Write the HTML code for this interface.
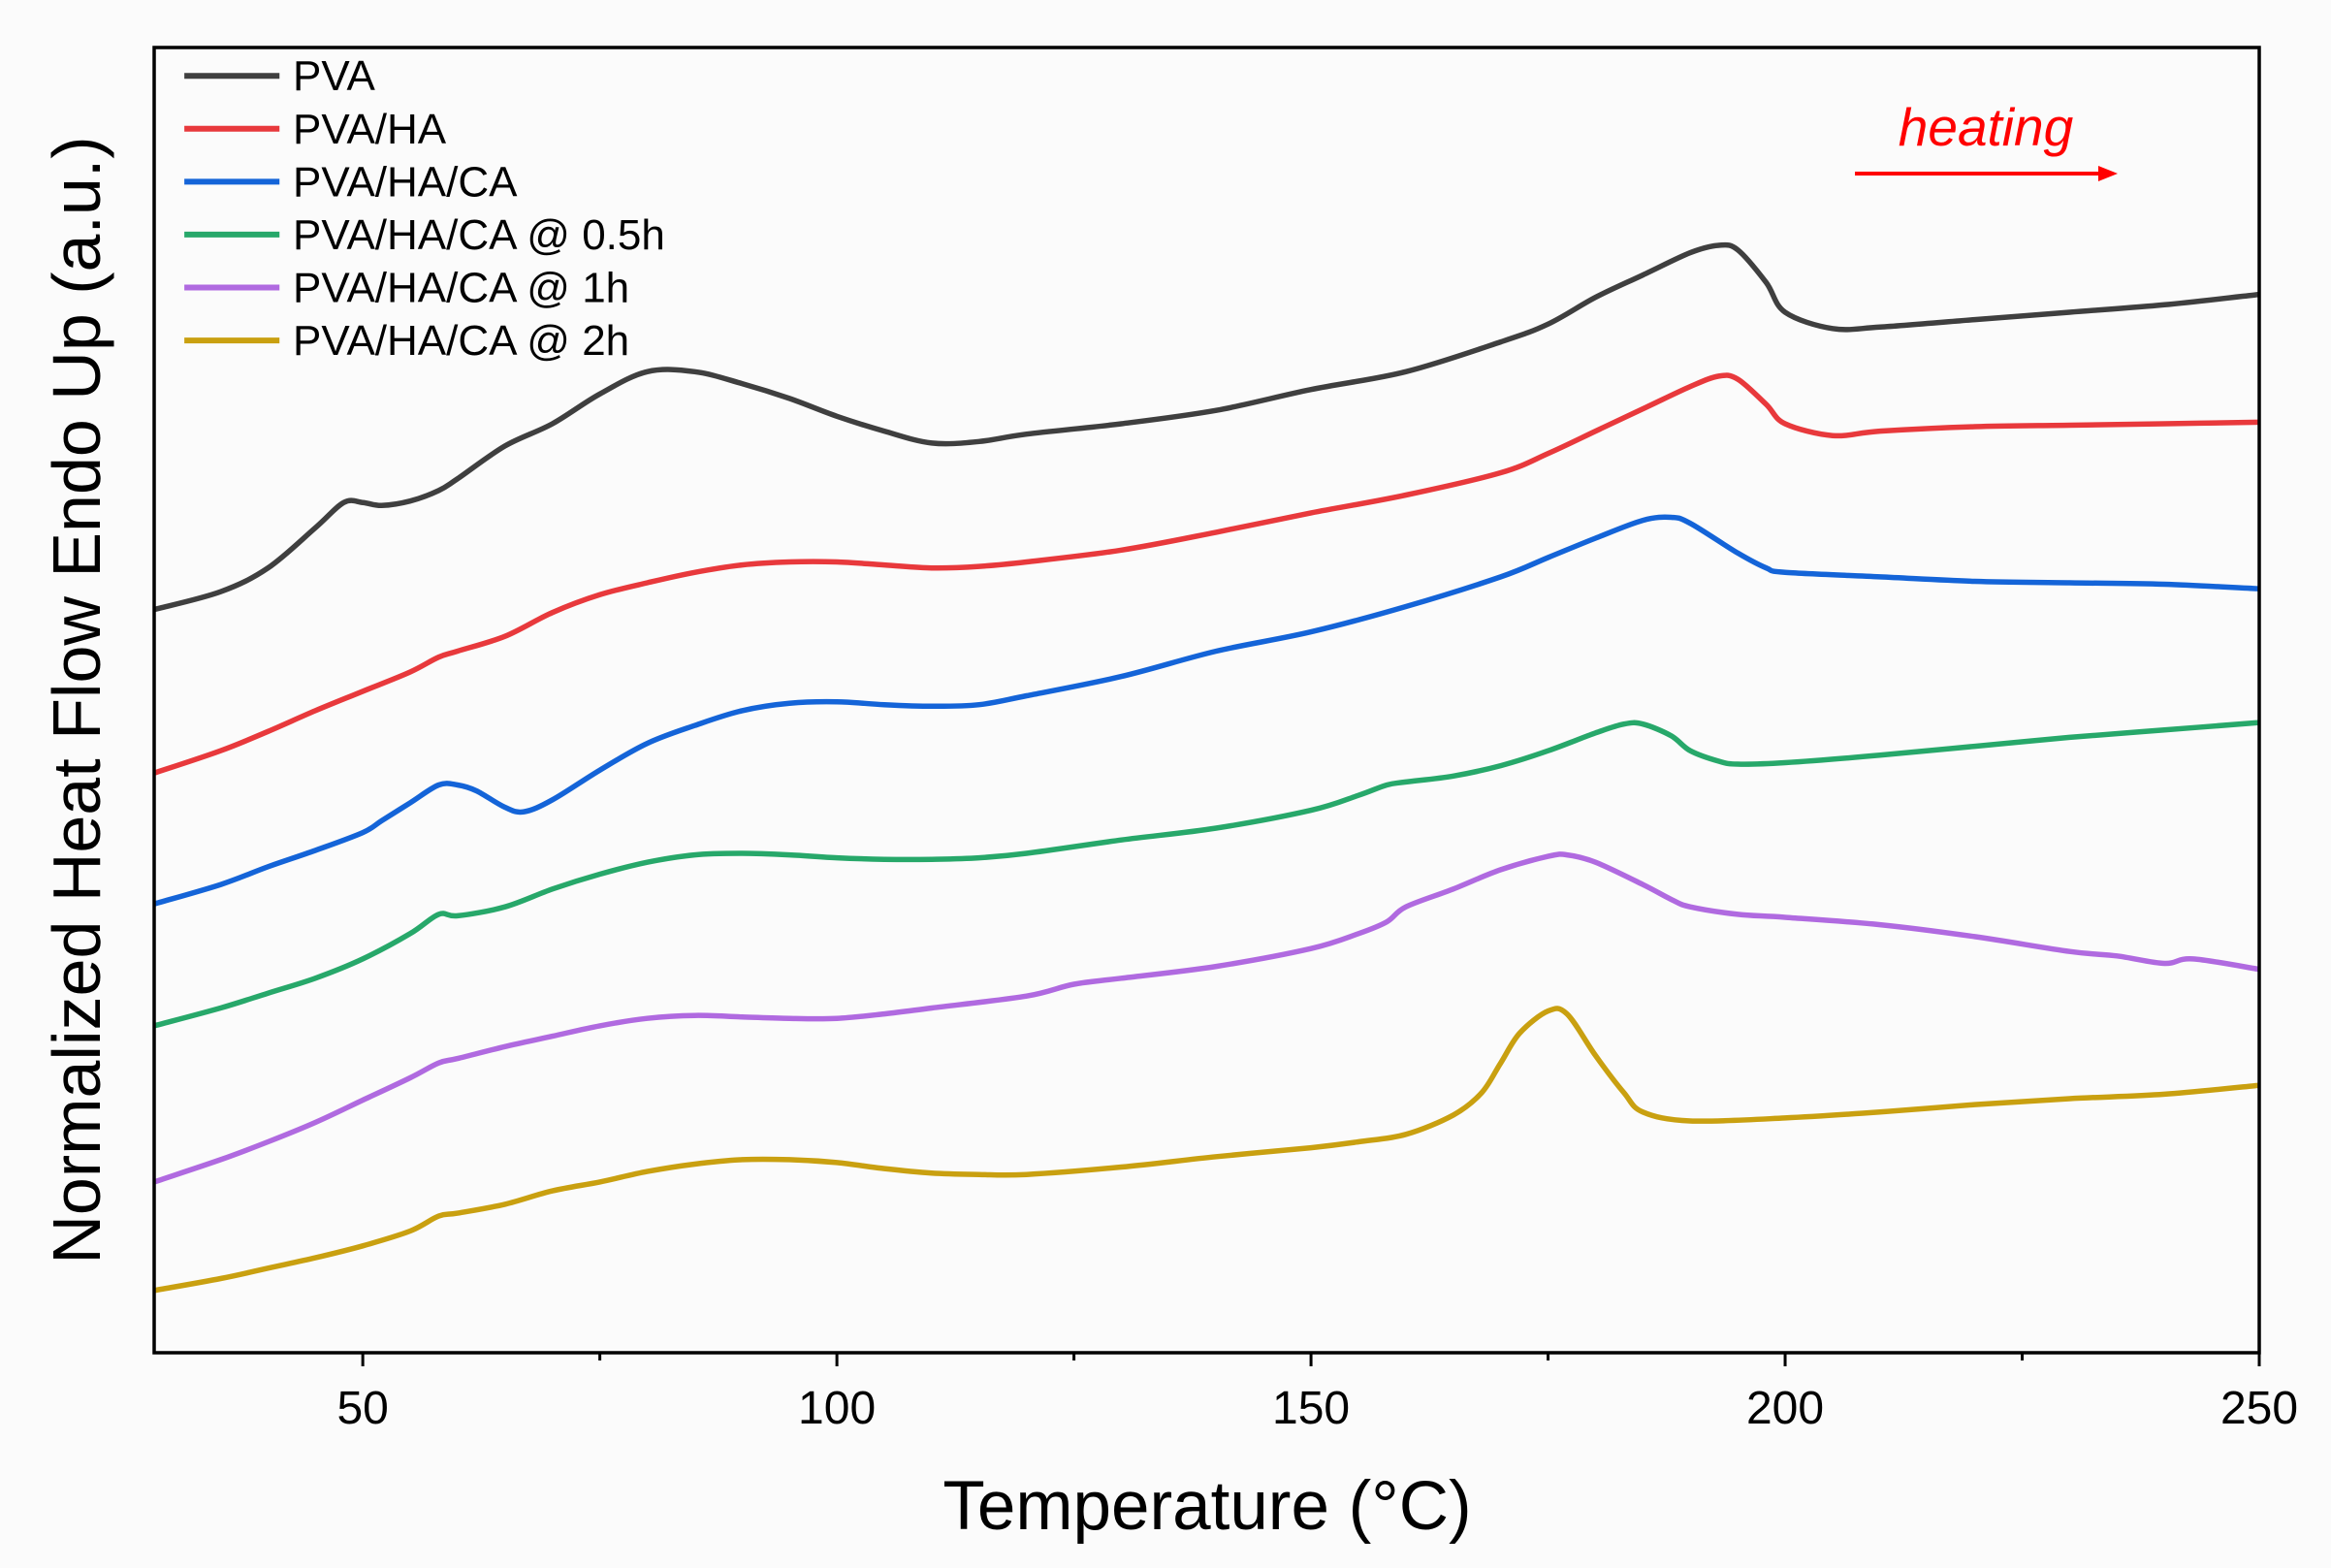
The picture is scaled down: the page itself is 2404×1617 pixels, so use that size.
<!DOCTYPE html>
<html><head><meta charset="utf-8"><style>
html,body{margin:0;padding:0;background:#fbfbfb;}
svg{display:block;font-family:"Liberation Sans",Arial,sans-serif;}
</style></head><body>
<svg id="chart" width="2404" height="1617" viewBox="0 0 2404 1617">
<rect x="0" y="0" width="2404" height="1617" fill="#fbfbfb"/>
<g id="curves"></g>
<rect x="159" y="49" width="2171" height="1346" fill="none" stroke="#000" stroke-width="3.5"/>
<g id="xticks"></g>
<text x="1245" y="1577" font-size="71" text-anchor="middle">Temperature (°C)</text>
<text transform="translate(103,722) rotate(-90)" font-size="70" text-anchor="middle">Normalized Heat Flow Endo Up (a.u.)</text>
<g id="legend"></g>
<text x="2048" y="150" font-size="55" font-style="italic" fill="#ff0000" text-anchor="middle">heating</text>
<line x1="1913" y1="179" x2="2170" y2="179" stroke="#ff0000" stroke-width="4"/>
<polygon points="2184,179 2164,171 2164,187" fill="#ff0000"/>
</svg>
<script>
const seriesNames = ["PVA","PVA/HA","PVA/HA/CA","PVA/HA/CA @ 0.5h","PVA/HA/CA @ 1h","PVA/HA/CA @ 2h"];
const seriesColors = ["#3f3f3f","#e8393c","#1464d8","#27a86a","#b06ae0","#c9a010"];
const xTicks = [50,100,150,200,250];
const xMinorTicks = [75,125,175,225];
const tPVA = [28,35,40,45,48,50,52,55,58,60,65,70,75,80,85,90,95,100,105,110,115,120,130,140,150,160,170,175,180,185,190,193,195,198,200,205,210,220,230,240,250];
const vPVA = [410,398,382,355,338,338,340,337,330,322,300,285,265,250,250,258,268,280,290,298,297,292,285,276,262,250,230,218,200,185,170,165,168,190,210,221,220,215,210,205,198];
const tHA = [28,35,40,45,50,55,58,60,65,70,75,80,85,90,95,100,105,110,115,120,130,140,150,160,170,175,180,185,190,193,195,198,200,205,210,220,230,240,250];
const vHA = [520,505,492,478,465,452,442,438,428,412,400,392,385,380,378,378,380,382,381,378,370,358,345,333,318,305,290,275,260,253,255,272,285,293,290,287,286,285,284];
const tCA = [28,35,40,45,50,52,55,58,60,62,65,67,70,75,80,85,90,95,100,105,110,115,120,130,140,150,160,170,175,180,185,188,190,195,198,200,210,220,230,240,250];
const vCA = [608,595,583,572,560,552,540,528,528,532,543,546,538,518,500,488,478,473,472,474,475,474,468,455,438,425,408,388,375,362,350,348,352,372,382,385,388,391,392,393,396];
const t05 = [28,35,40,45,50,55,58,60,65,70,75,80,85,90,95,100,105,110,115,120,130,140,150,155,158,160,165,170,175,180,183,185,188,190,193,195,200,210,220,230,240,250];
const v05 = [690,678,668,658,645,628,615,616,610,598,588,580,575,574,575,577,578,578,577,574,565,557,545,535,528,526,522,515,505,493,487,487,495,505,512,514,513,508,502,496,491,486];
const t1 = [28,35,40,45,50,55,58,60,65,70,75,80,85,90,95,100,105,110,120,125,130,140,150,155,158,160,165,170,175,177,180,185,188,190,195,200,210,220,230,235,240,243,250];
const v1 = [795,780,768,755,740,725,715,712,704,697,690,685,683,684,685,685,682,678,670,662,658,650,638,628,620,610,598,585,576,575,580,595,605,610,615,617,622,630,640,643,648,645,652];
const t2 = [28,35,40,45,50,55,58,60,65,70,75,80,85,90,95,100,105,110,115,120,130,140,150,155,160,165,168,170,172,175,177,180,183,185,190,200,210,220,230,240,250];
const v2 = [868,860,853,846,838,828,818,816,810,801,795,788,783,780,780,782,786,789,790,790,785,778,772,768,763,750,735,715,695,680,682,710,735,748,754,752,748,743,739,736,730];
const allT = [tPVA,tHA,tCA,t05,t1,t2];
const allV = [vPVA,vHA,vCA,v05,v1,v2];

const S = 2404/1568;
const X0=159, X1=2330, Y0=49, Y1=1395;
const TMIN=28, TMAX=250;
function xScale(t){return X0+(t-TMIN)/(TMAX-TMIN)*(X1-X0);}
function yScale(v){return v*S;}
const NS="http://www.w3.org/2000/svg";

function smoothPath(pts){
  let d="M"+pts[0][0].toFixed(1)+","+pts[0][1].toFixed(1);
  for(let i=0;i<pts.length-1;i++){
    const p0=pts[Math.max(0,i-1)],p1=pts[i],p2=pts[i+1],p3=pts[Math.min(pts.length-1,i+2)];
    const c1x=p1[0]+(p2[0]-p0[0])/6,c1y=p1[1]+(p2[1]-p0[1])/6;
    const c2x=p2[0]-(p3[0]-p1[0])/6,c2y=p2[1]-(p3[1]-p1[1])/6;
    d+=" C"+c1x.toFixed(1)+","+c1y.toFixed(1)+" "+c2x.toFixed(1)+","+c2y.toFixed(1)+" "+p2[0].toFixed(1)+","+p2[1].toFixed(1);
  }
  return d;
}
const curves=document.getElementById("curves");
allT.forEach((ts,i)=>{
  const pts=ts.map((t,j)=>[xScale(t),yScale(allV[i][j])]);
  const p=document.createElementNS(NS,"path");
  p.setAttribute("d",smoothPath(pts));
  p.setAttribute("fill","none");
  p.setAttribute("stroke",seriesColors[i]);
  p.setAttribute("stroke-width","5.5");
  p.setAttribute("stroke-linejoin","round");
  
  
  curves.appendChild(p);
});
const xt=document.getElementById("xticks");
xTicks.forEach(t=>{
  const x=xScale(t);
  const l=document.createElementNS(NS,"line");
  l.setAttribute("x1",x);l.setAttribute("x2",x);l.setAttribute("y1",Y1);l.setAttribute("y2",Y1+14);
  l.setAttribute("stroke","#000");l.setAttribute("stroke-width","3");
  
  
  xt.appendChild(l);
  const tx=document.createElementNS(NS,"text");
  tx.setAttribute("x",x);tx.setAttribute("y",1468);tx.setAttribute("font-size","48");tx.setAttribute("text-anchor","middle");
  tx.textContent=t;
  
  
  xt.appendChild(tx);
});
xMinorTicks.forEach(t=>{
  const x=xScale(t);
  const l=document.createElementNS(NS,"line");
  l.setAttribute("x1",x);l.setAttribute("x2",x);l.setAttribute("y1",Y1);l.setAttribute("y2",Y1+8);
  l.setAttribute("stroke","#000");l.setAttribute("stroke-width","3");
  
  
  xt.appendChild(l);
});
const lg=document.getElementById("legend");
seriesNames.forEach((n,i)=>{
  const y=(51+i*35.6)*S;
  const l=document.createElementNS(NS,"line");
  l.setAttribute("x1",124*S);l.setAttribute("x2",188*S);l.setAttribute("y1",y);l.setAttribute("y2",y);
  l.setAttribute("stroke",seriesColors[i]);l.setAttribute("stroke-width","6");
  
  
  lg.appendChild(l);
  const tx=document.createElementNS(NS,"text");
  tx.setAttribute("x",197*S);tx.setAttribute("y",y+15);tx.setAttribute("font-size","44");
  tx.textContent=n;
  
  
  lg.appendChild(tx);
});
</script>
</body></html>
